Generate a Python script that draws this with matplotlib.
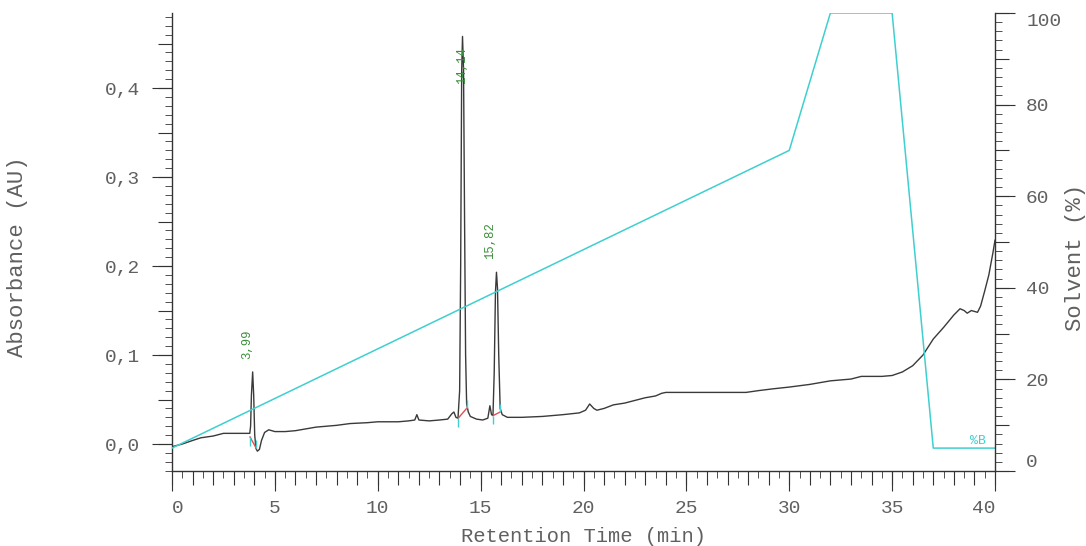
import matplotlib
matplotlib.use('Agg')
import matplotlib.pyplot as plt
from matplotlib.ticker import MultipleLocator, FuncFormatter
import numpy as np

plt.rcParams['font.family'] = ['Liberation Mono', 'DejaVu Sans Mono']

# chromatogram trace (min, AU)
trace_t = [0.0, 0.5, 1.0, 1.4, 2.0, 2.5, 3.0, 3.5, 3.78, 3.82, 3.86, 3.92, 3.97, 4.02,
           4.08, 4.15, 4.25, 4.35, 4.5, 4.7, 5.0, 5.5, 6.0, 7.0, 8.0, 8.65, 9.5, 10.0,
           11.0, 11.5, 11.8, 11.9, 12.0, 12.5, 13.0, 13.4, 13.6, 13.7, 13.8, 13.9,
           13.98, 14.03, 14.08, 14.12, 14.17, 14.22, 14.27, 14.32, 14.4, 14.5, 14.8,
           15.1, 15.35, 15.45, 15.53, 15.6, 15.66, 15.72, 15.77, 15.82, 15.88, 15.95,
           16.05, 16.3, 17.0, 18.0, 19.0, 19.8, 20.1, 20.3, 20.5, 20.65, 21.0, 21.45,
           22.0, 23.0, 23.5, 23.8, 24.0, 25.0, 26.0, 27.0, 27.9, 28.5, 29.2, 30.0,
           31.0, 32.0, 33.0, 33.5, 34.5, 35.0, 35.5, 36.0, 36.5, 37.0, 37.5, 38.0,
           38.3, 38.5, 38.65, 38.85, 39.0, 39.15, 39.3, 39.5, 39.7, 39.9, 40.0]
trace_a = [-0.003, 0.000, 0.004, 0.007, 0.009, 0.012, 0.012, 0.012, 0.012, 0.020, 0.055,
           0.081, 0.055, 0.010, -0.005, -0.008, -0.006, 0.004, 0.013, 0.016, 0.014,
           0.014, 0.015, 0.019, 0.021, 0.023, 0.024, 0.025, 0.025, 0.026, 0.027, 0.033,
           0.027, 0.026, 0.027, 0.028, 0.034, 0.036, 0.030, 0.029, 0.060, 0.200, 0.420,
           0.458, 0.420, 0.250, 0.100, 0.045, 0.036, 0.031, 0.028, 0.027, 0.029, 0.043,
           0.033, 0.032, 0.080, 0.170, 0.193, 0.175, 0.100, 0.040, 0.033, 0.030, 0.030,
           0.031, 0.033, 0.035, 0.038, 0.045, 0.040, 0.038, 0.040, 0.044, 0.046, 0.052,
           0.054, 0.057, 0.058, 0.058, 0.058, 0.058, 0.058, 0.060, 0.062, 0.064, 0.067,
           0.071, 0.073, 0.076, 0.076, 0.077, 0.081, 0.088, 0.100, 0.118, 0.131, 0.145,
           0.152, 0.150, 0.147, 0.150, 0.149, 0.148, 0.155, 0.172, 0.190, 0.215, 0.229]

# gradient %B
grad_t = [0, 30, 32, 35, 37, 40]
grad_b = [5, 70, 100, 100, 5, 5]

# integrated peaks
peak_rt = [3.99, 14.14, 15.82]
peak_h = [0.081, 0.458, 0.193]
peak_labels = ['3,99', '14,14', '15,82']
base_t0 = [3.79, 13.91, 15.61]
base_a0 = [0.008, 0.029, 0.032]
base_t1 = [4.10, 14.32, 15.95]
base_a1 = [-0.005, 0.040, 0.036]

W, H = 1086, 546
fig = plt.figure(figsize=(W / 100, H / 100), dpi=100)
ax = fig.add_axes([172 / W, 1 - 471 / H, 823 / W, 458 / H])
ax2 = ax.twinx()

axis_col = '#333333'
text_col = '#606060'
cyan = '#3fcfcf'

ax.plot(trace_t, trace_a, color='#3a3a3a', lw=1.0)
for t0, a0, t1, a1 in zip(base_t0, base_a0, base_t1, base_a1):
    ax.plot([t0, t1], [a0, a1], color='#e05050', lw=1.0)
    ax.vlines(t0, a0 - 0.010, a0, color=cyan, lw=1.0)
    ax.vlines(t1, a1, a1 + 0.009, color=cyan, lw=1.0)
top_lab = 0.405
for rt, h, lab in zip(peak_rt, peak_h, peak_labels):
    y = h + 0.015
    dx = -0.35
    if y > top_lab:
        y, dx = top_lab, -0.02
    ax.text(rt + dx, y, lab, rotation=90, ha='center', va='bottom',
            color='#3b8f3b', fontsize=8.8)

ax2.plot(grad_t, grad_b, color=cyan, lw=1.1)
ax2.text(39.56, 5.2, '%B', color=cyan, fontsize=9.5, ha='right', va='bottom')

ax.set_xlim(0, 40)
ax.set_ylim(-0.0303, 0.4843)
ax2.set_ylim(0, 100)

for s in ['top', 'right']:
    ax.spines[s].set_visible(False)
for s in ['top', 'left', 'bottom']:
    ax2.spines[s].set_visible(False)
for a in (ax, ax2):
    for s in a.spines.values():
        s.set_color(axis_col)
        s.set_linewidth(1.0)

ax.xaxis.set_major_locator(MultipleLocator(5))
ax.xaxis.set_minor_locator(MultipleLocator(0.5))
ax.yaxis.set_major_locator(MultipleLocator(0.1))
ax.yaxis.set_minor_locator(MultipleLocator(0.01))
ax2.yaxis.set_major_locator(MultipleLocator(20))
ax2.yaxis.set_minor_locator(MultipleLocator(2))

ax.yaxis.set_major_formatter(FuncFormatter(lambda v, p: f'{v:.1f}'.replace('.', ',')))
ax.xaxis.set_major_formatter(FuncFormatter(lambda v, p: f'{v:.0f}'))

long_, mid_, short_ = 14.4, 10.0, 5.0
ax.tick_params(axis='x', which='major', length=long_, pad=6.5, direction='out',
               color=axis_col, labelcolor=text_col, labelsize=14)
ax.tick_params(axis='x', which='minor', length=short_, direction='out', color=axis_col)
ax.tick_params(axis='y', which='major', length=long_, pad=8.5, direction='out',
               color=axis_col, labelcolor=text_col, labelsize=14)
ax.tick_params(axis='y', which='minor', length=short_, direction='out', color=axis_col)
ax2.tick_params(axis='y', which='major', length=long_, pad=8, direction='out',
                color=axis_col, labelcolor=text_col, labelsize=14)
ax2.tick_params(axis='y', which='minor', length=short_, direction='out', color=axis_col)

# middle tick level
secx = ax.secondary_xaxis('bottom')
secx.xaxis.set_major_locator(MultipleLocator(1))
secx.tick_params(length=mid_, color=axis_col, labelbottom=False)
secy = ax.secondary_yaxis('left')
secy.yaxis.set_major_locator(MultipleLocator(0.05))
secy.tick_params(length=mid_, color=axis_col, labelleft=False)
secy2 = ax2.secondary_yaxis('right')
secy2.yaxis.set_major_locator(MultipleLocator(10))
secy2.tick_params(length=mid_, color=axis_col, labelright=False)
for sa in (secx, secy, secy2):
    for s in sa.spines.values():
        s.set_visible(False)

ax.set_xlabel('Retention Time (min)', color=text_col, fontsize=14.8)
ax.xaxis.set_label_coords(0.5, (471 - 537) / 458)
ax.xaxis.label.set_va('center')
ax.set_ylabel('Absorbance (AU)', color=text_col, fontsize=16)
ax.yaxis.set_label_coords((18 - 172) / 823, 0.467)
ax.yaxis.label.set_va('center')
ax2.set_ylabel('Solvent (%)', color=text_col, fontsize=16)
ax2.yaxis.set_label_coords((1075 - 172) / 823, 0.467)
ax2.yaxis.label.set_va('center')

# end labels pulled inside the frame
fig.canvas.draw()
for tick in ax.xaxis.get_major_ticks():
    if np.isclose(tick.get_loc(), 0):
        tick.label1.set_ha('left')
    elif np.isclose(tick.get_loc(), 40):
        tick.label1.set_ha('right')
for tick in ax2.yaxis.get_major_ticks():
    if np.isclose(tick.get_loc(), 0):
        tick.label2.set_va('bottom')
    elif np.isclose(tick.get_loc(), 100):
        tick.label2.set_va('top')

fig.savefig('out.png', dpi=100, facecolor='white')
